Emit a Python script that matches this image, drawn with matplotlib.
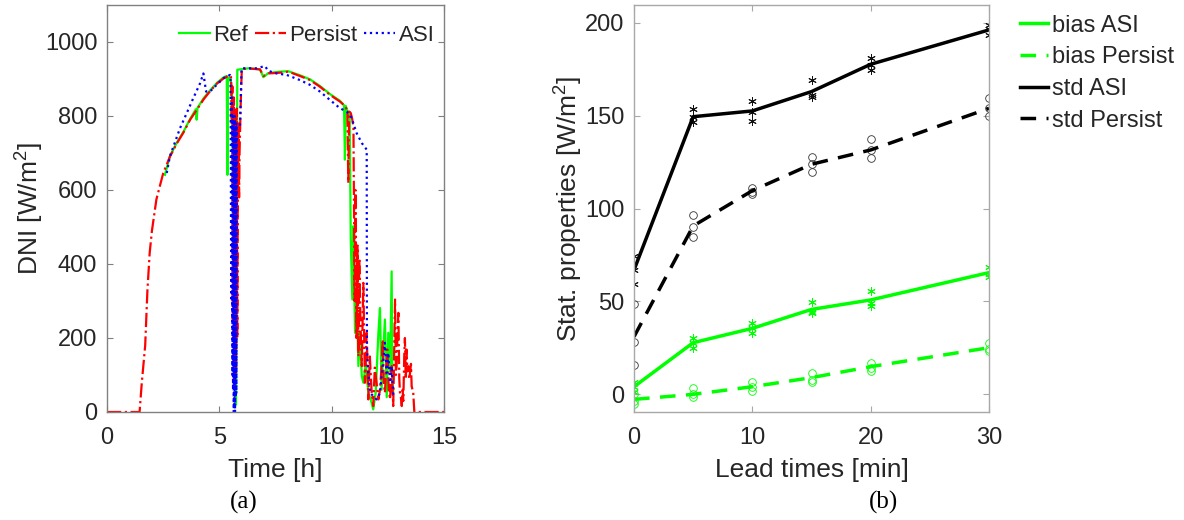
import matplotlib
matplotlib.use("Agg")
import matplotlib.pyplot as plt
from matplotlib.lines import Line2D

plt.rcParams['font.family'] = ['Liberation Sans', 'DejaVu Sans']
plt.rcParams['mathtext.fontset'] = 'custom'
plt.rcParams['mathtext.rm'] = 'Liberation Sans'
plt.rcParams['mathtext.it'] = 'Liberation Sans:italic'

# ---------------- Panel (a): DNI time series ----------------
persist_t = [0, 1.45, 1.55, 1.70, 1.80, 1.90, 2.00, 2.20, 2.50, 2.80, 3.10, 3.40, 3.70, 4.00,
             4.30, 4.60, 4.90, 5.20, 5.45, 5.52, 5.55, 5.58, 5.60, 5.62, 5.64, 5.65, 5.67,
             5.68, 5.70, 5.72, 5.74, 5.75, 5.77, 5.78, 5.80, 5.82, 5.84, 5.86, 5.88, 5.90,
             5.95, 6.00, 6.40, 6.81, 6.96, 7.18, 7.70, 8.07, 8.59,
             9.04, 9.48, 9.93, 10.37, 10.59, 10.70, 10.74, 10.78, 10.85, 10.92, 10.97, 11.02,
             11.06, 11.10, 11.15, 11.19, 11.23, 11.28, 11.34, 11.41, 11.48, 11.56, 11.63,
             11.70, 11.78, 11.85, 11.92, 12.00, 12.08, 12.15, 12.22, 12.27, 12.32, 12.37,
             12.42, 12.48, 12.54, 12.60, 12.67, 12.74, 12.78, 12.82, 12.86, 12.89, 12.93,
             12.97, 13.01, 13.04, 13.08, 13.12, 13.16, 13.19, 13.23, 13.26, 13.30, 13.33,
             13.37, 13.41, 13.45, 13.49, 13.53, 13.56, 13.60, 13.63, 13.68, 15.0]
persist_v = [0, 0, 80, 180, 330, 430, 490, 575, 645, 690, 725, 755, 790, 817,
             845, 868, 888, 902, 910, 905, 780, 880, 250, 840, 120, 850, 60,
             400, 820, 780, 100, 150, 800, 820, 200, 583, 760, 780, 580, 700,
             830, 927, 928, 926, 908, 915, 917, 920, 908,
             897, 879, 857, 839, 827, 815, 619, 812, 808, 790, 770, 300,
             600, 200, 450, 150, 416, 250, 124, 349, 79, 214, 34,
             150, 52, 16, 120, 79, 34, 60, 120, 196, 80, 52,
             110, 169, 60, 34, 124, 16, 150, 304, 100, 124, 210,
             268, 90, 52, 40, 16, 60, 30, 150, 200, 90, 169,
             110, 124, 90, 106, 130, 70, 60, 52, 0, 0]

ref_t = [2.58, 2.80, 3.10, 3.40, 3.70, 3.95, 3.99, 4.03, 4.30, 4.60, 4.90, 5.20, 5.33,
         5.36, 5.39, 5.45, 5.50, 5.55, 5.58, 5.62, 5.66, 5.70, 5.74, 5.77, 5.80, 6.30,
         6.81, 6.96, 7.18, 7.70, 8.07, 8.59, 9.04, 9.48, 9.93, 10.37, 10.55, 10.59,
         10.63, 10.74, 10.80, 10.85, 10.92, 10.96, 11.04, 11.11, 11.19, 11.26, 11.34,
         11.41, 11.52, 11.63, 11.74, 11.85, 11.96, 12.08, 12.15, 12.22, 12.30, 12.37,
         12.45, 12.52, 12.60, 12.67, 12.70, 12.74]
ref_v = [641, 692, 727, 757, 792, 818, 790, 822, 848, 870, 890, 905, 908,
         641, 900, 905, 900, 880, 820, 300, 700, 100, 20, 400, 925, 929,
         926, 905, 916, 920, 921, 910, 899, 881, 859, 841, 829, 682,
         827, 808, 800, 466, 304, 502, 214, 322, 124, 214, 97,
         79, 133, 52, 34, 7, 52, 214, 281, 60, 169, 250,
         40, 214, 110, 380, 100, 52]

asi_t = [2.66, 2.80, 3.25, 3.55, 3.84, 4.14, 4.29, 4.41, 4.58, 4.88, 5.18, 5.47, 5.50,
         5.53, 5.56, 5.58, 5.60, 5.61, 5.63, 5.64, 5.66, 5.67, 5.69, 5.70, 5.72, 5.73,
         5.75, 5.76, 5.78, 5.85, 5.92, 5.99,
         6.66, 7.03, 7.18, 7.55, 8.00, 8.59, 9.04, 9.48, 9.93, 10.37, 10.67, 10.82,
         10.89, 10.96, 11.11, 11.34, 11.56, 11.57, 11.63, 11.71, 11.85, 12.00, 12.15,
         12.27, 12.37, 12.45, 12.52, 12.60, 12.67, 12.74]
asi_v = [646, 691, 767, 808, 848, 888, 915, 866, 866, 884, 902, 911, 900,
         300, 850, 100, 800, 60, 790, 0, 780, 20, 800, 0, 770, 40,
         780, 50, 772, 772, 772, 929,
         929, 935, 922, 915, 911, 897, 884, 866, 843, 821, 812, 803,
         795, 781, 754, 727, 709, 169, 106, 52, 43, 34, 52,
         124, 187, 106, 160, 79, 124, 43]

# ---------------- Panel (b): statistics vs lead time ----------------
lead_times = [0, 5, 10, 15, 20, 30]
bias_asi = [4.1, 27.8, 35.5, 45.7, 50.8, 65.5]
bias_persist = [-2.7, 0.0, 4.1, 9.0, 14.9, 25.1]
std_asi = [66.9, 149.4, 152.5, 162.9, 177.6, 196.1]
std_persist = [31.0, 90.6, 109.6, 123.8, 131.5, 153.9]

# individual runs (three per lead time)
bias_asi_runs = [[6.8, 4.1, 1.5], [30.5, 27.4, 25.1], [38.6, 35.5, 32.8],
                 [49.9, 44.5, 43.6], [55.8, 49.0, 47.5], [68.7, 64.8, 63.3]]
bias_persist_runs = [[0.0, -3.5, -5.0], [3.2, 0.0, -1.3], [6.5, 3.8, 2.0],
                     [11.3, 7.7, 6.8], [17.0, 14.0, 12.6], [27.8, 24.2, 23.5]]
std_asi_runs = [[74.4, 66.9, 59.4], [153.4, 149.0, 146.7], [157.8, 152.1, 147.3],
                [169.1, 161.1, 160.2], [180.8, 177.2, 174.5], [198.7, 196.4, 193.4]]
std_persist_runs = [[48.6, 28.3, 15.8], [96.5, 90.2, 84.8], [110.9, 109.1, 107.6],
                    [127.9, 123.8, 119.8], [137.2, 131.5, 127.0], [159.3, 154.3, 149.8]]

GREEN = '#00ff00'
TXT = '#262626'
TICK_FS = 17
LABEL_FS = 19

fig = plt.figure(figsize=(11.84, 5.2), dpi=100)
W, H = 1184, 520
ax1 = fig.add_axes([107 / W, (H - 412) / H, 337 / W, 407 / H])
ax2 = fig.add_axes([634 / W, (H - 412) / H, 355 / W, 407 / H])

# Panel (a)
ax1.plot(ref_t, ref_v, color=GREEN, lw=1.6, ls='-', label='Ref')
ax1.plot(persist_t, persist_v, color='#ff0000', lw=1.6, ls='-.', label='Persist')
ax1.plot(asi_t, asi_v, color='#0000ff', lw=1.6, ls=':', label='ASI')
ax1.set_xlim(0, 15)
ax1.set_ylim(0, 1100)
ax1.set_xticks([0, 5, 10, 15])
ax1.set_yticks([0, 200, 400, 600, 800, 1000])
ax1.set_xlabel('Time [h]', fontsize=LABEL_FS, color=TXT, labelpad=6)
ax1.set_ylabel('DNI [W/m$^2$]', fontsize=LABEL_FS, color=TXT, labelpad=-1)
leg1 = ax1.legend(loc='upper right', bbox_to_anchor=(0.985, 0.963), ncol=3, frameon=False,
                  fontsize=16, handlelength=1.4, handletextpad=0.15, columnspacing=0.3,
                  borderpad=0.2, borderaxespad=0)
for t in leg1.get_texts():
    t.set_color(TXT)

# Panel (b)
ast = (6, 2, 0)
for i, x in enumerate(lead_times):
    ax2.plot([x] * 3, bias_persist_runs[i], ls='none', marker='o', ms=5.5, mfc='none',
             mec=GREEN, mew=0.6)
    ax2.plot([x] * 3, bias_asi_runs[i], ls='none', marker=ast, ms=6, mec=GREEN, mew=0.7)
    ax2.plot([x] * 3, std_persist_runs[i], ls='none', marker='o', ms=5.5, mfc='none',
             mec='#333333', mew=0.6)
    ax2.plot([x] * 3, std_asi_runs[i], ls='none', marker=ast, ms=6, mec='#111111', mew=0.7)

ax2.plot(lead_times, bias_asi, color=GREEN, lw=2.5, ls='-')
ax2.plot(lead_times, bias_persist, color=GREEN, lw=2.5, ls=(0, (4.5, 3)))
ax2.plot(lead_times, std_asi, color='black', lw=2.5, ls='-')
ax2.plot(lead_times, std_persist, color='black', lw=2.5, ls=(0, (4.5, 3)))
ax2.set_xlim(0, 30)
ax2.set_ylim(-9.5, 209.5)
ax2.set_xticks([0, 10, 20, 30])
ax2.set_yticks([0, 50, 100, 150, 200])
ax2.set_xlabel('Lead times [min]', fontsize=LABEL_FS, color=TXT, labelpad=6)
ax2.set_ylabel('Stat. properties [W/m$^2$]', fontsize=LABEL_FS, color=TXT, labelpad=0)

handles = [Line2D([], [], color=GREEN, lw=2.5, ls='-'),
           Line2D([], [], color=GREEN, lw=2.5, ls=(0, (4.5, 3))),
           Line2D([], [], color='black', lw=2.5, ls='-'),
           Line2D([], [], color='black', lw=2.5, ls=(0, (4.5, 3)))]
labels = ['bias ASI', 'bias Persist', 'std ASI', 'std Persist']
leg2 = ax2.legend(handles, labels, loc='upper left', bbox_to_anchor=(1.075, 0.988),
                  frameon=False, fontsize=17, handlelength=1.15, handletextpad=0.2,
                  labelspacing=0.41, borderpad=0.2, borderaxespad=0)
for t in leg2.get_texts():
    t.set_color(TXT)

for ax, sc in ((ax1, '#808080'), (ax2, '#a8a8a8')):
    for s in ax.spines.values():
        s.set_color(sc)
        s.set_linewidth(1.0)
    ax.tick_params(direction='in', top=True, right=True, length=4, width=0.8,
                   color=sc, labelsize=TICK_FS, labelcolor=TXT, pad=7)
    ax.tick_params(axis='x', pad=11)

fig.text(244 / W, 1 - 502 / H, '(a)', family='Liberation Serif', fontsize=18,
         ha='center', va='center', color='black')
fig.text(884 / W, 1 - 502 / H, '(b)', family='Liberation Serif', fontsize=18,
         ha='center', va='center', color='black')

fig.savefig('out.png', dpi=100)
